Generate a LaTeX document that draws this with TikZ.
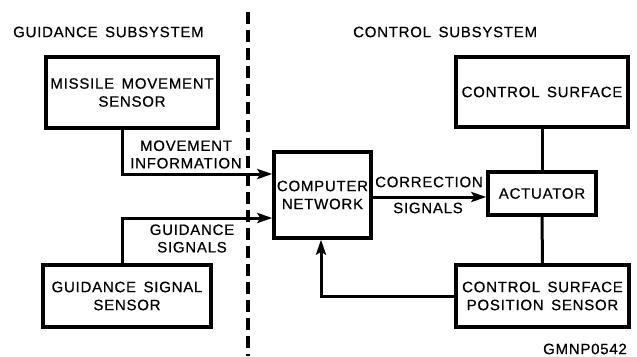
\documentclass[tikz,border=0pt]{standalone}
\usepackage{fontspec}
\setmainfont{Liberation Sans}[LetterSpace=5,FakeBold=0.6]
\usetikzlibrary{arrows.meta}
\tikzset{
  blk/.style={draw, line width=3.4pt, rectangle, align=center, inner sep=2pt,
    font=\fontsize{15}{18}\selectfont},
  lbl/.style={align=center, inner sep=0pt, font=\fontsize{15}{17.5}\selectfont},
  conn/.style={line width=3pt},
  arr/.style={conn, -{Stealth[length=15pt,width=10pt,inset=3pt]}},
  dashline/.style={line width=3.4pt, dash pattern=on 12pt off 6pt},
}
\newcommand\wsp{\hspace{0.5em}}
\begin{document}
\begin{tikzpicture}[x=1pt,y=-1pt]
\useasboundingbox (0,0) rectangle (637,356);
% dashed divider
\coordinate (dtop) at (248,12);
\coordinate (dbot) at (248,356);
\draw[dashline] (dtop) -- (dbot);
% titles
\node[lbl, anchor=west] (gtitle) at (13,32) {GUIDANCE\wsp SUBSYSTEM};
\node[lbl, anchor=west] (ctitle) at (353,32) {CONTROL\wsp SUBSYSTEM};
\node[lbl, anchor=east] (code) at (627,349) {GMNP0542};
% boxes
\node[blk, minimum width=172pt, minimum height=71pt] (mms) at (132,92.5) {MISSILE\wsp MOVEMENT\\SENSOR};
\node[blk, minimum width=168pt, minimum height=62pt] (gss) at (127,296) {GUIDANCE\wsp SIGNAL\\SENSOR};
\node[blk, minimum width=97pt, minimum height=86pt, inner sep=0pt] (cn) at (322.5,195) {COMPUTER\\NETWORK};
\node[blk, minimum width=172pt, minimum height=70pt] (cs) at (542,92) {CONTROL\wsp SURFACE};
\node[blk, minimum width=108pt, minimum height=43pt] (act) at (542,193.5) {ACTUATOR};
\node[blk, minimum width=173pt, minimum height=62pt] (csps) at (542.5,296) {CONTROL\wsp SURFACE\\POSITION\wsp SENSOR};
% connectors
\draw[arr] ([xshift=-10pt]mms.south) |- ([yshift=21pt]cn.west);
\draw[arr] ([xshift=-5pt]gss.north) |- ([yshift=-23pt]cn.west);
\draw[arr] ([yshift=-2pt]cn.east) -- ([yshift=-2pt]cn.east -| act.west);
\draw[conn] (cs.south) -- (act.north);
\draw[conn] (act.south) -- (csps.north);
\draw[arr] (csps.west) -| ([xshift=-1.5pt]cn.south);
% labels
\node[lbl] (mi) at (186,154.5) {MOVEMENT\\INFORMATION};
\node[lbl] (gs) at (192,238.5) {GUIDANCE\\SIGNALS};
\node[lbl] (corr) at (429,182) {CORRECTION};
\node[lbl] (sig) at (428,208) {SIGNALS};
\end{tikzpicture}
\end{document}
